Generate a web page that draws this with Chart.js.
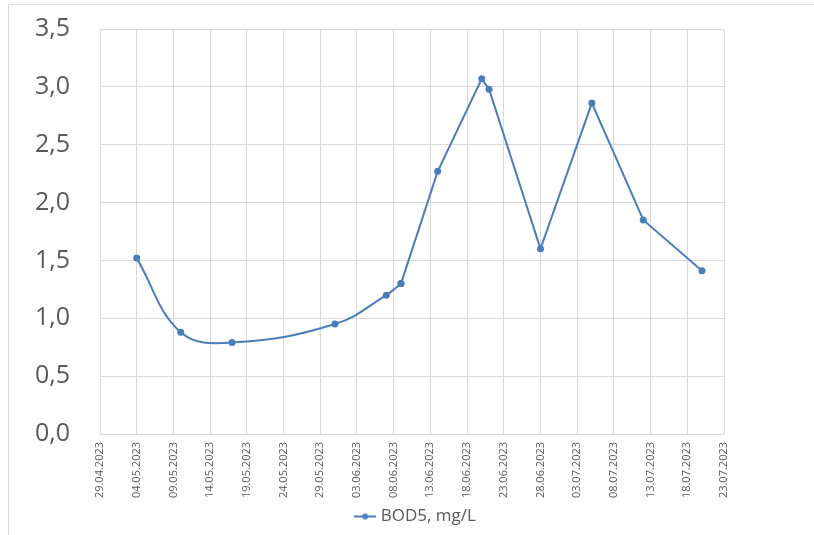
<!DOCTYPE html>
<html>
<head>
<meta charset="utf-8">
<script src="https://cdn.jsdelivr.net/npm/chart.js@4/dist/chart.umd.min.js"></script>
<style>
  html, body { margin: 0; padding: 0; background: #ffffff; }
  #wrap { width: 814px; height: 535px; position: relative; }
</style>
</head>
<body>
<div id="wrap"><canvas id="c" width="814" height="535"></canvas></div>
<script>
// Sampling dates and BOD5 readings (mg/L)
const sampleDates = ["04.05.2023", "10.05.2023", "17.05.2023", "31.05.2023", "07.06.2023", "09.06.2023",
                     "14.06.2023", "20.06.2023", "21.06.2023", "28.06.2023", "05.07.2023", "12.07.2023", "20.07.2023"];
const bod5 = [1.52, 0.88, 0.79, 0.95, 1.20, 1.30, 2.27, 3.07, 2.98, 1.60, 2.86, 1.85, 1.41];
const seriesName = "BOD5, mg/L";

// The series is drawn smoothed up to this sample, straight afterwards
const smoothUntil = "09.06.2023";

// Date axis range and tick spacing (days)
const axisStart = "29.04.2023";
const axisEnd = "23.07.2023";
const tickStepDays = 5;

// Value axis range
const yMin = 0;
const yMax = 3.5;
const yStep = 0.5;

const DAY = 86400000;
function dayNumber(s) {
  const [d, m, y] = s.split(".").map(Number);
  return Date.UTC(y, m - 1, d) / DAY;
}
function formatDay(n) {
  const dt = new Date(n * DAY);
  const dd = String(dt.getUTCDate()).padStart(2, "0");
  const mm = String(dt.getUTCMonth() + 1).padStart(2, "0");
  return dd + "." + mm + "." + dt.getUTCFullYear();
}
const base = dayNumber(axisStart);
const points = sampleDates.map((s, i) => ({ x: dayNumber(s) - base, y: bod5[i] }));
const splitIndex = sampleDates.indexOf(smoothUntil);

const blue = "#4a7ebb";
const textGray = "#595959";
const gridGray = "#d9d9d9";
const fontFamily = "'Open Sans', 'Liberation Sans', sans-serif";

// Legend symbol: short line with a dot in the middle
const legendSymbol = document.createElement("canvas");
legendSymbol.width = 22;
legendSymbol.height = 8;
(function () {
  const g = legendSymbol.getContext("2d");
  g.strokeStyle = blue;
  g.lineWidth = 2;
  g.beginPath();
  g.moveTo(0, 4);
  g.lineTo(22, 4);
  g.stroke();
  g.fillStyle = blue;
  g.beginPath();
  g.arc(11, 4, 3, 0, Math.PI * 2);
  g.fill();
})();

// White background plus the thin frame along the top and left edges
const framePlugin = {
  id: "frame",
  beforeDraw(chart) {
    const ctx = chart.ctx;
    ctx.save();
    ctx.fillStyle = "#ffffff";
    ctx.fillRect(0, 0, chart.width, chart.height);
    ctx.strokeStyle = gridGray;
    ctx.lineWidth = 1;
    ctx.beginPath();
    ctx.moveTo(8.5, chart.height);
    ctx.lineTo(8.5, 4.5);
    ctx.lineTo(chart.width, 4.5);
    ctx.stroke();
    ctx.restore();
  }
};

const lineStyle = {
  label: seriesName,
  borderColor: blue,
  backgroundColor: blue,
  borderWidth: 2,
  pointRadius: 3.5,
  pointBackgroundColor: blue,
  pointBorderColor: blue,
  pointBorderWidth: 0,
  fill: false
};

new Chart(document.getElementById("c"), {
  type: "line",
  data: {
    datasets: [
      Object.assign({}, lineStyle, { data: points.slice(0, splitIndex + 1), tension: 0.4 }),
      Object.assign({}, lineStyle, { data: points.slice(splitIndex), tension: 0 })
    ]
  },
  options: {
    responsive: false,
    animation: false,
    layout: { padding: { left: 20, right: 0, top: 29, bottom: 0 } },
    scales: {
      x: {
        type: "linear",
        min: 0,
        max: dayNumber(axisEnd) - base,
        afterFit(scale) { scale.height = 66; },
        ticks: {
          stepSize: tickStepDays,
          minRotation: 90,
          maxRotation: 90,
          padding: 8,
          color: textGray,
          font: { family: fontFamily, size: 11 },
          callback: (v) => formatDay(base + v)
        },
        grid: { color: gridGray, lineWidth: 1, drawTicks: false },
        border: { color: gridGray, width: 1 }
      },
      y: {
        min: yMin,
        max: yMax,
        afterFit(scale) { scale.width = 80; },
        ticks: {
          stepSize: yStep,
          padding: 2,
          color: textGray,
          font: { family: fontFamily, size: 25 },
          callback: (v) => Number(v).toFixed(1).replace(".", ",")
        },
        grid: { color: gridGray, lineWidth: 1, drawTicks: true, tickLength: 28, tickColor: "rgba(0,0,0,0)" },
        border: { display: false }
      },
      yRight: {
        position: "right",
        min: 0,
        max: 1,
        afterFit(scale) { scale.width = 90; },
        ticks: { display: false },
        grid: { display: false, drawTicks: false },
        border: { display: false }
      }
    },
    plugins: {
      legend: {
        position: "bottom",
        labels: {
          color: textGray,
          font: { family: fontFamily, size: 17 },
          usePointStyle: true,
          pointStyleWidth: 14,
          padding: 8,
          generateLabels: (chart) => [{
            text: seriesName,
            fillStyle: blue,
            strokeStyle: blue,
            lineWidth: 0,
            pointStyle: legendSymbol,
            fontColor: textGray,
            hidden: false,
            datasetIndex: 0
          }]
        }
      },
      tooltip: { enabled: false }
    }
  },
  plugins: [framePlugin]
});
</script>
</body>
</html>
